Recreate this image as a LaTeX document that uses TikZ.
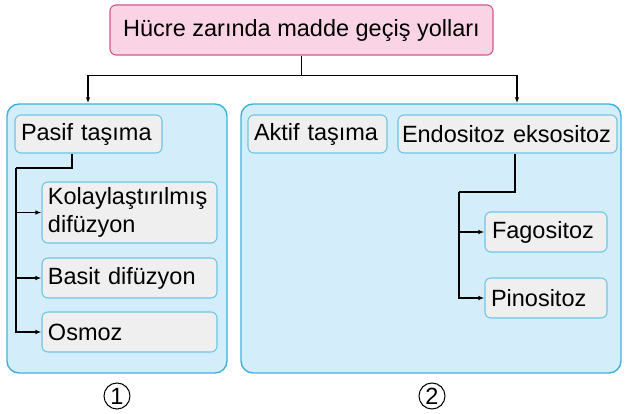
\documentclass[tikz,border=0pt]{standalone}
\usepackage{fontspec}
\setmainfont{Liberation Sans}
\usetikzlibrary{arrows.meta, positioning, calc}
\definecolor{pembe}{HTML}{FAD4E5}
\definecolor{pembekenar}{HTML}{D6558F}
\definecolor{mavi}{HTML}{D3EDFA}
\definecolor{mavikenar}{HTML}{3FB2DC}
\definecolor{gri}{HTML}{EFEFEF}
\definecolor{grikenar}{HTML}{6EC6E6}
\newcommand{\yazi}{\fontsize{23.5}{28}\selectfont}
\tikzstyle{panel} = [rectangle, rounded corners=12pt, draw=mavikenar, fill=mavi, line width=1.4pt]
\tikzstyle{kutu} = [rectangle, rounded corners=6pt, draw=grikenar, fill=gri, line width=1.1pt, align=left, inner xsep=6pt, inner ysep=0pt, font=\yazi]
\tikzstyle{ok} = [line width=1.2pt, -{Latex[length=6pt,width=4.5pt]}]

\begin{document}
\begin{tikzpicture}[x=1pt, y=-1pt]
  \useasboundingbox (0,0) rectangle (625,414);

  % Başlık
  \node[kutu, draw=pembekenar, fill=pembe, align=center, minimum width=383, minimum height=50] (baslik) at (301.5,30) {Hücre zarında madde geçiş yolları};

  % Paneller
  \node[panel, minimum width=220, minimum height=269] (sol) at (117,238.5) {};
  \node[panel, minimum width=380, minimum height=269] (sag) at (431,238.5) {};

  % Sol kutular
  \node[kutu, text width=135, minimum height=38] (pasif) at (88.5,134) {Pasif taşıma};
  \node[kutu, text width=163, minimum height=61] (kolay) at (129.5,212.5) {Kolaylaştırılmış\\difüzyon};
  \node[kutu, text width=163, minimum height=40] (basit) at (129.5,278) {Basit difüzyon};
  \node[kutu, text width=163, minimum height=40] (osmoz) at (129.5,332) {Osmoz};

  % Sağ kutular
  \node[kutu, text width=127, minimum height=38] (aktif) at (317.5,134) {Aktif taşıma};
  \node[kutu, text width=211, inner xsep=4pt, minimum height=38] (endo) at (507.5,134) {Endositoz eksositoz};
  \node[kutu, text width=108, inner xsep=7pt, minimum height=40] (fago) at (546,232) {Fagositoz};
  \node[kutu, text width=110, minimum height=40] (pino) at (546,298) {Pinositoz};

  % Numaralar
  \node[draw, circle, line width=1pt, inner sep=0pt, minimum size=26, font=\yazi] (bir) at (117,396) {1};
  \node[draw, circle, line width=1pt, inner sep=0pt, minimum size=26, font=\yazi] (iki) at (432,396) {2};

  % Başlıktan panellere
  \draw[line width=1.2pt] (baslik.south) -- ++(0,20) coordinate (kol);
  \draw[ok] (kol) -| ([xshift=-29]sol.north);
  \draw[ok] (kol) -| ([xshift=86]sag.north);

  % Pasif taşıma dalları
  \coordinate (d1) at (16,168);
  \draw[line width=1.2pt] ([xshift=-16.5]pasif.south) |- (d1);
  \foreach \n in {kolay,basit,osmoz}
    \draw[ok] (d1) |- (\n.west);

  % Endositoz dalları
  \coordinate (d2) at (459,192);
  \draw[line width=1.2pt] ([xshift=7.5]endo.south) |- (d2);
  \foreach \n in {fago,pino}
    \draw[ok] (d2) |- (\n.west);
\end{tikzpicture}
\end{document}
